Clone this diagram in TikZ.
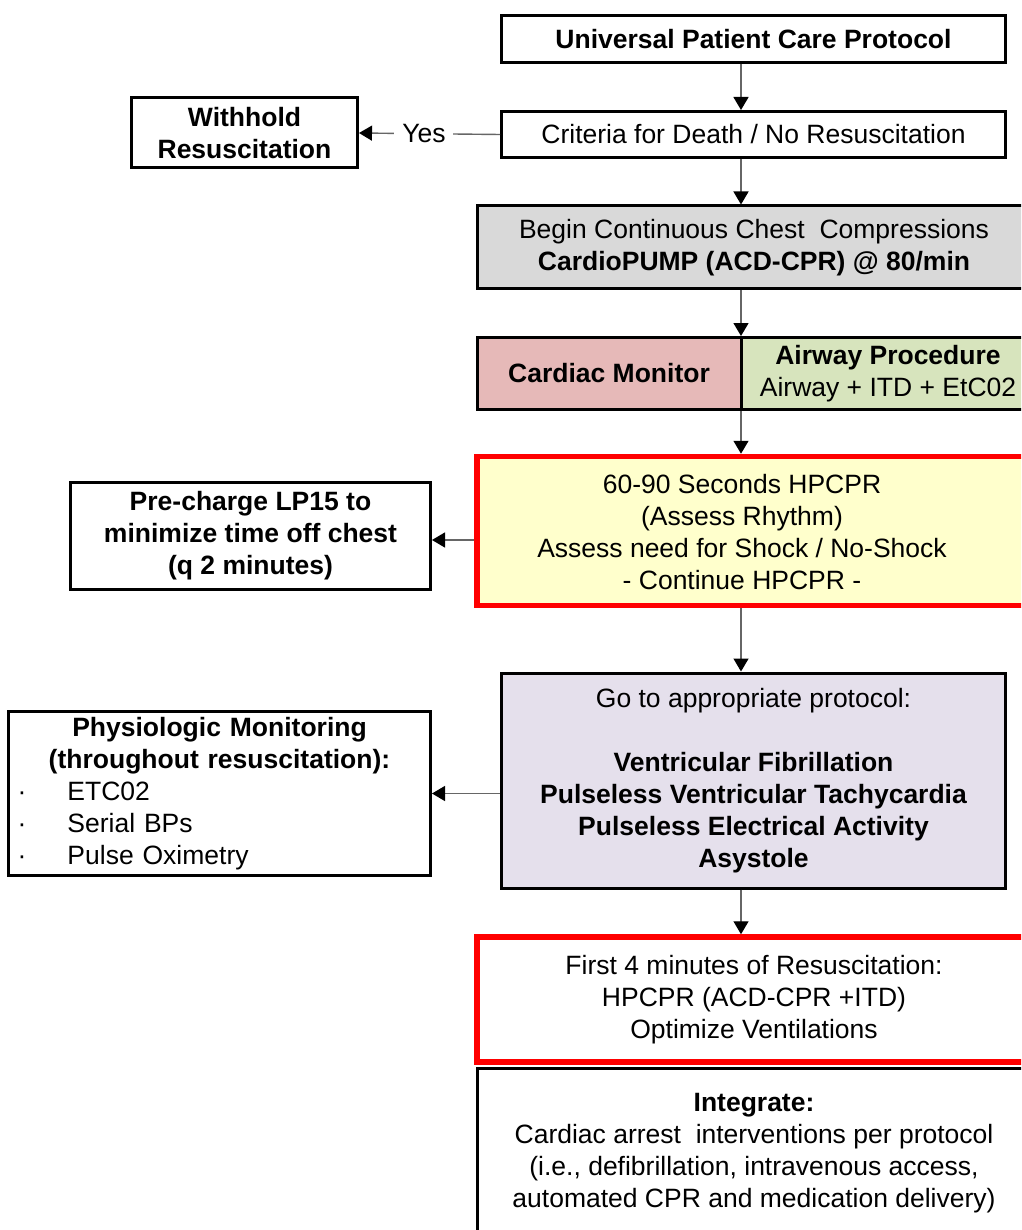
\documentclass[tikz,border=0pt]{standalone}
\usepackage{fontspec}
\setmainfont{Liberation Sans}
\usetikzlibrary{arrows.meta}
\definecolor{connector}{HTML}{666666}
\definecolor{grayfill}{HTML}{D9D9D9}
\definecolor{monitorfill}{HTML}{E6B9B8}
\definecolor{airwayfill}{HTML}{D7E4BD}
\definecolor{hpcprfill}{HTML}{FFFFCC}
\definecolor{protofill}{HTML}{E5E0EC}
\definecolor{alertred}{HTML}{FF0000}
\newcommand{\flowfont}{\fontsize{26.5}{32}\selectfont}
\tikzset{
  box/.style={draw=black, line width=3pt, align=center, inner sep=0pt, font=\flowfont},
  redbox/.style={box, draw=alertred, line width=5.5pt},
  conn/.style={draw=connector, line width=1.4pt, -{Triangle[length=13pt,width=15pt,color=black]}}
}
\begin{document}
\begin{tikzpicture}[x=1pt, y=-1pt]
\clip (0,0) rectangle (1021,1230);
\fill[white] (0,0) rectangle (1021,1230);
\coordinate (spine) at (741,0);

% main column
\node[box, minimum width=504pt, minimum height=47pt] (upcp) at (753.5,39) {\bfseries Universal Patient Care Protocol};
\node[box, minimum width=504pt, minimum height=46pt] (crit) at (753.5,134.5) {Criteria for Death / No Resuscitation};
\node[box, minimum width=226pt, minimum height=70pt] (withhold) at (244.5,133) {\bfseries Withhold\\\bfseries Resuscitation};
\node[box, fill=grayfill, minimum width=554pt, minimum height=83pt] (chest) at (754,247.5)
  {Begin Continuous Chest~ Compressions\\\bfseries CardioPUMP (ACD-CPR) @ 80/min};
\node[box, fill=monitorfill, minimum width=264pt, minimum height=72pt] (monitor) at (609,373.5) {\bfseries Cardiac Monitor};
\node[box, fill=airwayfill, minimum width=294pt, minimum height=72pt] (airway) at (888,373.5)
  {\bfseries Airway Procedure\\Airway + ITD + EtC02};
\node[redbox, fill=hpcprfill, minimum width=554pt, minimum height=149pt] (hpcpr) at (754,531) {};
\node[font=\flowfont, align=center, inner sep=0pt] (hpcprtext) at (742,532.5)
  {60-90 Seconds HPCPR\\(Assess Rhythm)\\Assess need for Shock / No-Shock\\- Continue HPCPR -};
\node[box, minimum width=360pt, minimum height=107pt] (precharge) at (250.5,535.5)
  {\bfseries Pre-charge LP15 to\\\bfseries minimize time off chest\\\bfseries (q 2 minutes)};
\node[box, fill=protofill, minimum width=504pt, minimum height=215pt] (proto) at (753.5,780.5)
  {Go to appropriate protocol:\\[32pt]\bfseries Ventricular Fibrillation\\\bfseries Pulseless Ventricular Tachycardia\\\bfseries Pulseless Electrical Activity\\\bfseries Asystole};
\node[box, minimum width=422pt, minimum height=164pt, text width=404pt, align=left] (physio) at (219.5,793.5)
  {\makebox[404pt]{\bfseries Physiologic Monitoring}\\
   \makebox[404pt]{\bfseries (throughout resuscitation):}\\
   \makebox[50pt][l]{·}ETC02\\
   \makebox[50pt][l]{·}Serial BPs\\
   \makebox[50pt][l]{·}Pulse Oximetry};
\node[redbox, minimum width=554pt, minimum height=125pt] (first) at (754,999.5)
  {First 4 minutes of Resuscitation:\\HPCPR (ACD-CPR +ITD)\\Optimize Ventilations};
\node[box, minimum width=554pt, minimum height=170pt] (integ) at (754,1153)
  {\bfseries Integrate:\\Cardiac arrest~ interventions per protocol\\(i.e., defibrillation, intravenous access,\\automated CPR and medication delivery)};

% connectors
\draw[conn] (upcp.south -| spine) -- (crit.north -| spine);
\draw[conn] (crit.west) -- node[pos=0.54, fill=white, font=\flowfont, inner xsep=8pt, inner ysep=0pt] {Yes} (withhold.east);
\draw[conn] (crit.south -| spine) -- (chest.north -| spine);
\draw[conn] (chest.south -| spine) -- (monitor.north -| spine);
\draw[conn] (monitor.south -| spine) -- (hpcpr.north -| spine);
\draw[conn] ([yshift=-9pt]hpcpr.west) -- ([yshift=-9pt]hpcpr.west -| precharge.east);
\draw[conn] (hpcpr.south -| spine) -- (proto.north -| spine);
\draw[conn] (proto.west |- physio.east) -- (physio.east);
\draw[conn] (proto.south -| spine) -- (first.north -| spine);
\end{tikzpicture}
\end{document}
